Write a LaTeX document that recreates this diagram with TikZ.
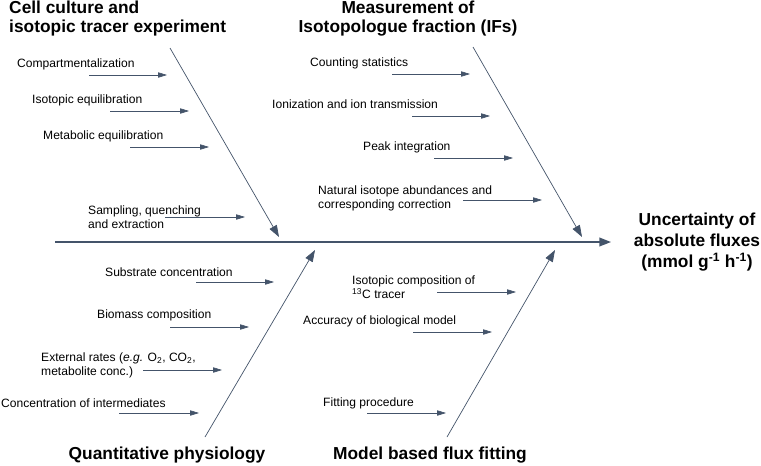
\documentclass[tikz,border=0pt]{standalone}
\usepackage{fontspec}
\setmainfont{Liberation Sans}
\usetikzlibrary{arrows.meta}
\definecolor{bone}{HTML}{44546A}

\begin{document}
\begin{tikzpicture}[x=0.03cm,y=-0.03cm]
	\tikzset{every node/.style={inner sep=0pt}}
	\tikzset{cause/.style={font=\fontsize{10.3}{11.9}\selectfont, align=left, anchor=west}}
	\tikzset{head/.style={font=\fontsize{14.8}{16.2}\selectfont\bfseries, align=center}}
	\tikzset{spine/.style={draw=bone, line width=1.3pt, -{Triangle[length=10pt,width=7.5pt]}}}
	\tikzset{rib/.style={draw=bone, line width=0.6pt, -{Triangle[length=10pt,width=7pt]}}}
	\tikzset{twig/.style={draw=bone, line width=0.55pt, -{Triangle[length=7.5pt,width=4.5pt]}}}
	\useasboundingbox (0,0) rectangle (761,465);
	% spine and effect
	\coordinate (sp-a) at (55,242);
	\coordinate (sp-b) at (611,242);
	\draw [spine] (sp-a) -- (sp-b);
	\node [head, font=\fontsize{14.8}{17.9}\selectfont\bfseries] (effect) at (697,242) {Uncertainty of\\absolute fluxes\\(mmol g\textsuperscript{-1} h\textsuperscript{-1})};
	% main bones
	\foreach \n/\xa/\ya/\xb/\yb in {cc/170/48/279/237, mi/473/47/582/237, qp/205/437/315/250, mf/447/437/555/250} {
		\coordinate (\n-a) at (\xa,\ya);
		\coordinate (\n-b) at (\xb,\yb);
		\draw [rib] (\n-a) -- (\n-b);
	}
	% category titles
	\node [head, align=left, anchor=west] (cc) at (9,18.5) {Cell culture and\\isotopic tracer experiment};
	\node [head] (mi) at (408,18.5) {Measurement of\\Isotopologue fraction (IFs)};
	\node [head] (qp) at (167,455) {Quantitative physiology};
	\node [head] (mf) at (430,455) {Model based flux fitting};
	% small arrows
	\foreach \n/\xa/\xb/\y in {cp/89/167/75, ie/110/189/111, me/130/209/147, sq/165/245/217,
		cs/392/470/74, it/412/490/116, pi/434/513/158, na/463/542/200,
		sc/196/274/282, bc/170/249/327, er/143/222/370, ci/119/199/413,
		ic/437/516/292, ab/413/492/332, fp/367/446/413} {
		\coordinate (\n-a) at (\xa,\y);
		\coordinate (\n-b) at (\xb,\y);
		\draw [twig] (\n-a) -- (\n-b);
	}
	% causes
	\node [cause] (cp) at (17,64) {Compartmentalization};
	\node [cause] (ie) at (32,100) {Isotopic equilibration};
	\node [cause] (me) at (43,136) {Metabolic equilibration};
	\node [cause] (sq) at (88,217) {Sampling, quenching\\and extraction};
	\node [cause] (cs) at (310,63) {Counting statistics};
	\node [cause] (it) at (272,104) {Ionization and ion transmission};
	\node [cause] (pi) at (363,147) {Peak integration};
	\node [cause] (na) at (318,198) {Natural isotope abundances and\\corresponding correction};
	\node [cause] (sc) at (105,272) {Substrate concentration};
	\node [cause] (bc) at (97,315) {Biomass composition};
	\node [cause] (er) at (41,365) {External rates (\textit{e.g.} O\textsubscript{2}, CO\textsubscript{2},\\metabolite conc.)};
	\node [cause] (ci) at (1,403) {Concentration of intermediates};
	\node [cause] (ic) at (352,287) {Isotopic composition of\\\textsuperscript{13}C tracer};
	\node [cause] (ab) at (303,321) {Accuracy of biological model};
	\node [cause] (fp) at (323,403) {Fitting procedure};
\end{tikzpicture}
\end{document}
